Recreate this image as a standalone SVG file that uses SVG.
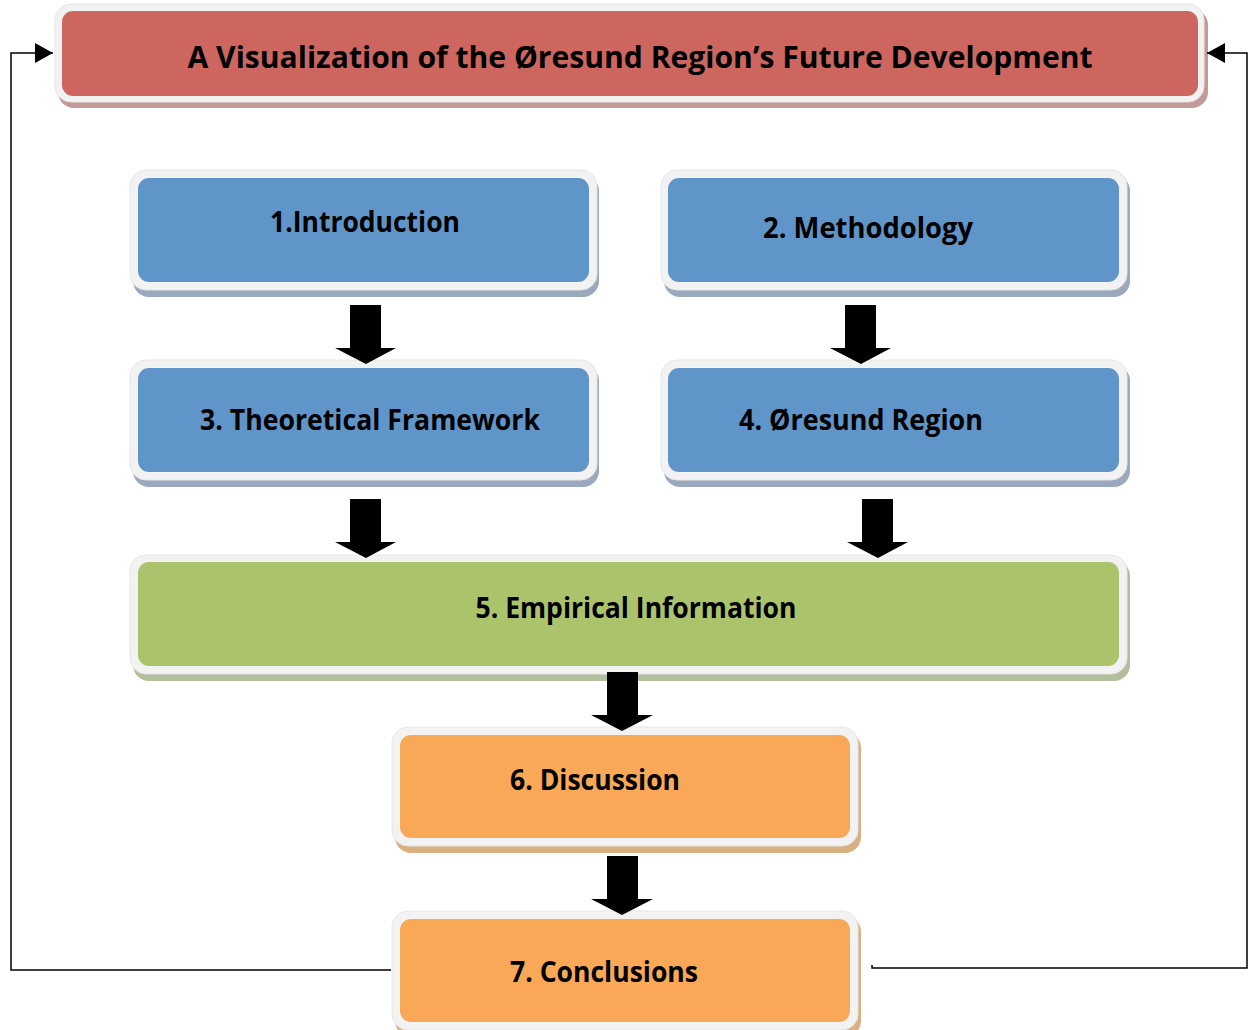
<svg xmlns="http://www.w3.org/2000/svg" width="1249" height="1030" viewBox="0 0 1249 1030">
<defs>
<style>
.frame{fill:#f2f2f2;stroke:#e6e6e6;stroke-width:1}
.lbl{font-family:"Open Sans","DejaVu Sans",sans-serif;font-weight:bold;font-size:28px;fill:#000;text-anchor:middle}
.conn{fill:none;stroke:#000;stroke-width:1.5}
.blk{fill:#000}
</style>
<marker id="ah" viewBox="0 0 18 20" refX="18" refY="10" markerWidth="18" markerHeight="20" markerUnits="userSpaceOnUse" orient="auto">
<path d="M0,0 L18,10 L0,20 Z" fill="#000"/>
</marker>
</defs>
<rect width="1249" height="1030" fill="#fff"/>

<g id="title">
<rect x="58" y="9" width="1150" height="99" rx="16" fill="#c39a98"/>
<rect class="frame" x="55" y="4" width="1149" height="98" rx="16"/>
<rect x="62" y="11" width="1136" height="85" rx="11" fill="#cd665f"/>
<text class="lbl" x="640" y="68" style="font-size:30px" textLength="905" lengthAdjust="spacingAndGlyphs">A Visualization of the Øresund Region’s Future Development</text>
</g>

<g id="n1">
<rect x="133" y="175" width="466" height="122" rx="16" fill="#9aa9bd"/>
<rect class="frame" x="130" y="170" width="467" height="120" rx="16"/>
<rect x="138" y="178" width="451" height="104" rx="11" fill="#6095c9"/>
<text class="lbl" x="365" y="232" textLength="190" lengthAdjust="spacingAndGlyphs">1.Introduction</text>
</g>

<g id="n2">
<rect x="664" y="175" width="466" height="122" rx="16" fill="#9aa9bd"/>
<rect class="frame" x="661" y="170" width="466" height="120" rx="16"/>
<rect x="668" y="178" width="451" height="104" rx="11" fill="#6095c9"/>
<text class="lbl" x="868" y="238" textLength="210" lengthAdjust="spacingAndGlyphs">2. Methodology</text>
</g>

<g id="n3">
<rect x="133" y="365" width="466" height="122" rx="16" fill="#9aa9bd"/>
<rect class="frame" x="130" y="360" width="467" height="120" rx="16"/>
<rect x="138" y="368" width="451" height="104" rx="11" fill="#6095c9"/>
<text class="lbl" x="370" y="430" textLength="340" lengthAdjust="spacingAndGlyphs">3. Theoretical Framework</text>
</g>

<g id="n4">
<rect x="664" y="365" width="466" height="122" rx="16" fill="#9aa9bd"/>
<rect class="frame" x="661" y="360" width="466" height="120" rx="16"/>
<rect x="668" y="368" width="451" height="104" rx="11" fill="#6095c9"/>
<text class="lbl" x="861" y="430" textLength="244" lengthAdjust="spacingAndGlyphs">4. Øresund Region</text>
</g>

<g id="n5">
<rect x="133" y="560" width="997" height="121" rx="16" fill="#b3bf9c"/>
<rect class="frame" x="130" y="555" width="997" height="119" rx="16"/>
<rect x="138" y="562" width="981" height="104" rx="11" fill="#abc46c"/>
<text class="lbl" x="636" y="618" textLength="321" lengthAdjust="spacingAndGlyphs">5. Empirical Information</text>
</g>

<g id="n6">
<rect x="395" y="732" width="466" height="121" rx="16" fill="#dbb080"/>
<rect class="frame" x="392" y="727" width="466" height="119" rx="16"/>
<rect x="400" y="735" width="450" height="103" rx="11" fill="#f9a857"/>
<text class="lbl" x="595" y="790" textLength="170" lengthAdjust="spacingAndGlyphs">6. Discussion</text>
</g>

<g id="n7">
<rect x="395" y="916" width="466" height="121" rx="16" fill="#dbb080"/>
<rect class="frame" x="392" y="911" width="466" height="119" rx="16"/>
<rect x="400" y="919" width="450" height="103" rx="11" fill="#f9a857"/>
<text class="lbl" x="604" y="982" textLength="188" lengthAdjust="spacingAndGlyphs">7. Conclusions</text>
</g>

<g id="connectors">
<polyline class="conn" points="391,970 11,970 11,53 53,53" marker-end="url(#ah)"/>
<polyline class="conn" points="872,965 872,968 1247,968 1247,53 1207,53" marker-end="url(#ah)"/>
<path class="blk" d="M350,305 H381 V348 H396 L366,364 L335,348 H350 Z"/>
<path class="blk" d="M845,305 H876 V348 H891 L861,364 L830,348 H845 Z"/>
<path class="blk" d="M350,499 H381 V542 H396 L366,558 L335,542 H350 Z"/>
<path class="blk" d="M862,499 H893 V542 H908 L878,558 L847,542 H862 Z"/>
<path class="blk" d="M607,672 H638 V715 H653 L622,731 L591,715 H607 Z"/>
<path class="blk" d="M607,856 H638 V899 H653 L622,915 L591,899 H607 Z"/>
</g>
</svg>
